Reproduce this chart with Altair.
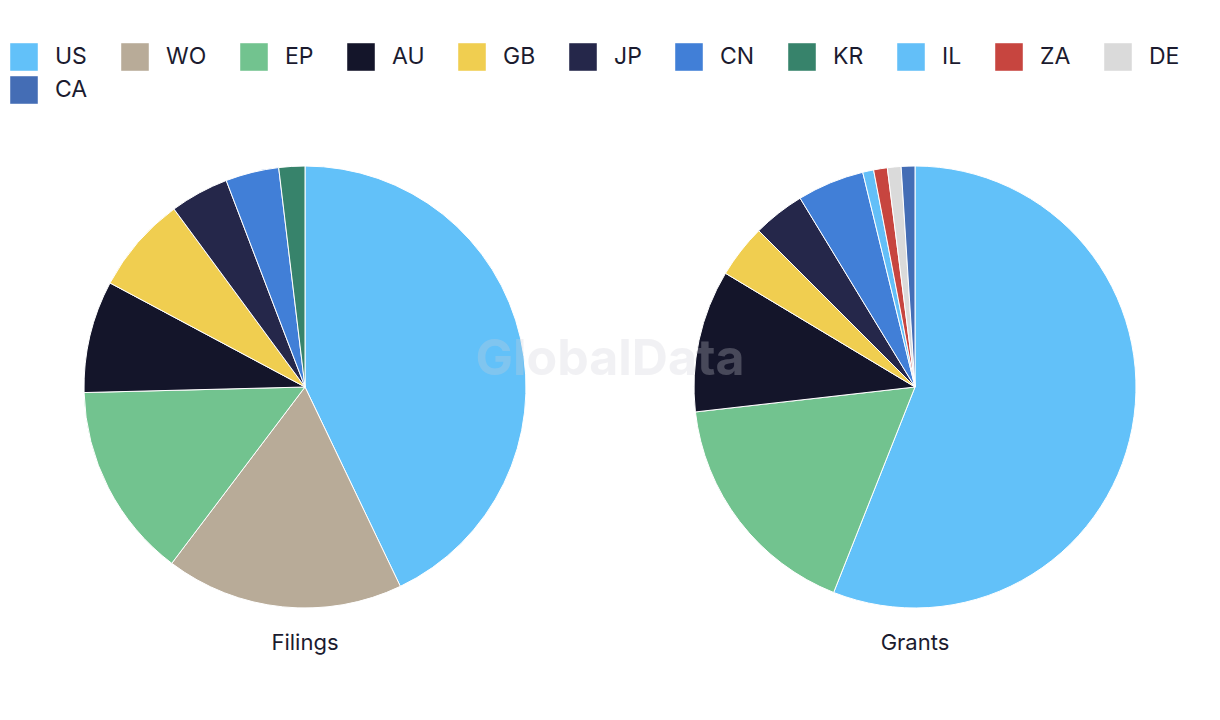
import altair as alt
import pandas as pd

countries = ["US", "WO", "EP", "AU", "GB", "JP", "CN", "KR", "IL", "ZA", "DE", "CA"]
colors = ["#62C1F9", "#B8AB98", "#72C38F", "#14152A", "#F0CE50", "#25274A",
          "#417FD7", "#37836B", "#63BFF8", "#C7453F", "#DADADA", "#446DB5"]

filings_countries = ["US", "WO", "EP", "AU", "GB", "JP", "CN", "KR"]
filings_values = [42.9, 17.4, 14.3, 8.2, 7.1, 4.3, 3.9, 1.9]

grants_countries = ["US", "EP", "AU", "GB", "JP", "CN", "IL", "ZA", "DE", "CA"]
grants_values = [56.0, 17.2, 10.4, 3.9, 3.8, 4.9, 0.8, 1.0, 1.0, 1.0]

panel_titles = ["Filings", "Grants"]
watermark = "GlobalData"

TEXT = "#1b1b2f"
FONT = "Inter"


def frame(cs, vs):
    return pd.DataFrame({"country": cs, "value": vs,
                         "idx": [countries.index(c) for c in cs]})


color = alt.Color(
    "country:N",
    scale=alt.Scale(domain=countries, range=colors),
    legend=alt.Legend(
        title=None, orient="none", legendX=10, legendY=43,
        direction="horizontal", columns=11, gridAlign="none",
        symbolType="square", symbolSize=760, symbolStrokeWidth=0,
        symbolOpacity=1, labelFontSize=23, labelFont=FONT, labelColor=TEXT,
        labelOffset=17, columnPadding=33, rowPadding=5, padding=0,
    ),
)


def pie(df, cx):
    return alt.Chart(df).mark_arc(outerRadius=221, stroke="white", strokeWidth=1).encode(
        theta=alt.Theta("value:Q", stack=True),
        color=color,
        order=alt.Order("idx:Q", sort="ascending"),
        x=alt.value(cx),
        y=alt.value(387),
    )


def label(text, cx, cy, size, weight="normal", col=TEXT, opacity=1.0):
    return alt.Chart(pd.DataFrame({"t": [text]})).mark_text(
        fontSize=size, font=FONT, fontWeight=weight, color=col, opacity=opacity,
        align="center", baseline="middle",
    ).encode(text="t:N", x=alt.value(cx), y=alt.value(cy))


chart = alt.layer(
    pie(frame(filings_countries, filings_values), 305),
    pie(frame(grants_countries, grants_values), 915),
    label(panel_titles[0], 305, 643, 22),
    label(panel_titles[1], 915, 643, 22),
    label(watermark, 610, 360, 50, "bold", "#d0d0d8", 0.28),
).resolve_scale(theta="independent").properties(
    width=1220, height=720, autosize=alt.AutoSizeParams(type="none"), padding=0,
    background="white",
).configure_view(stroke=None)

chart.save("out.html", embed_options={"renderer": "svg", "actions": False})
